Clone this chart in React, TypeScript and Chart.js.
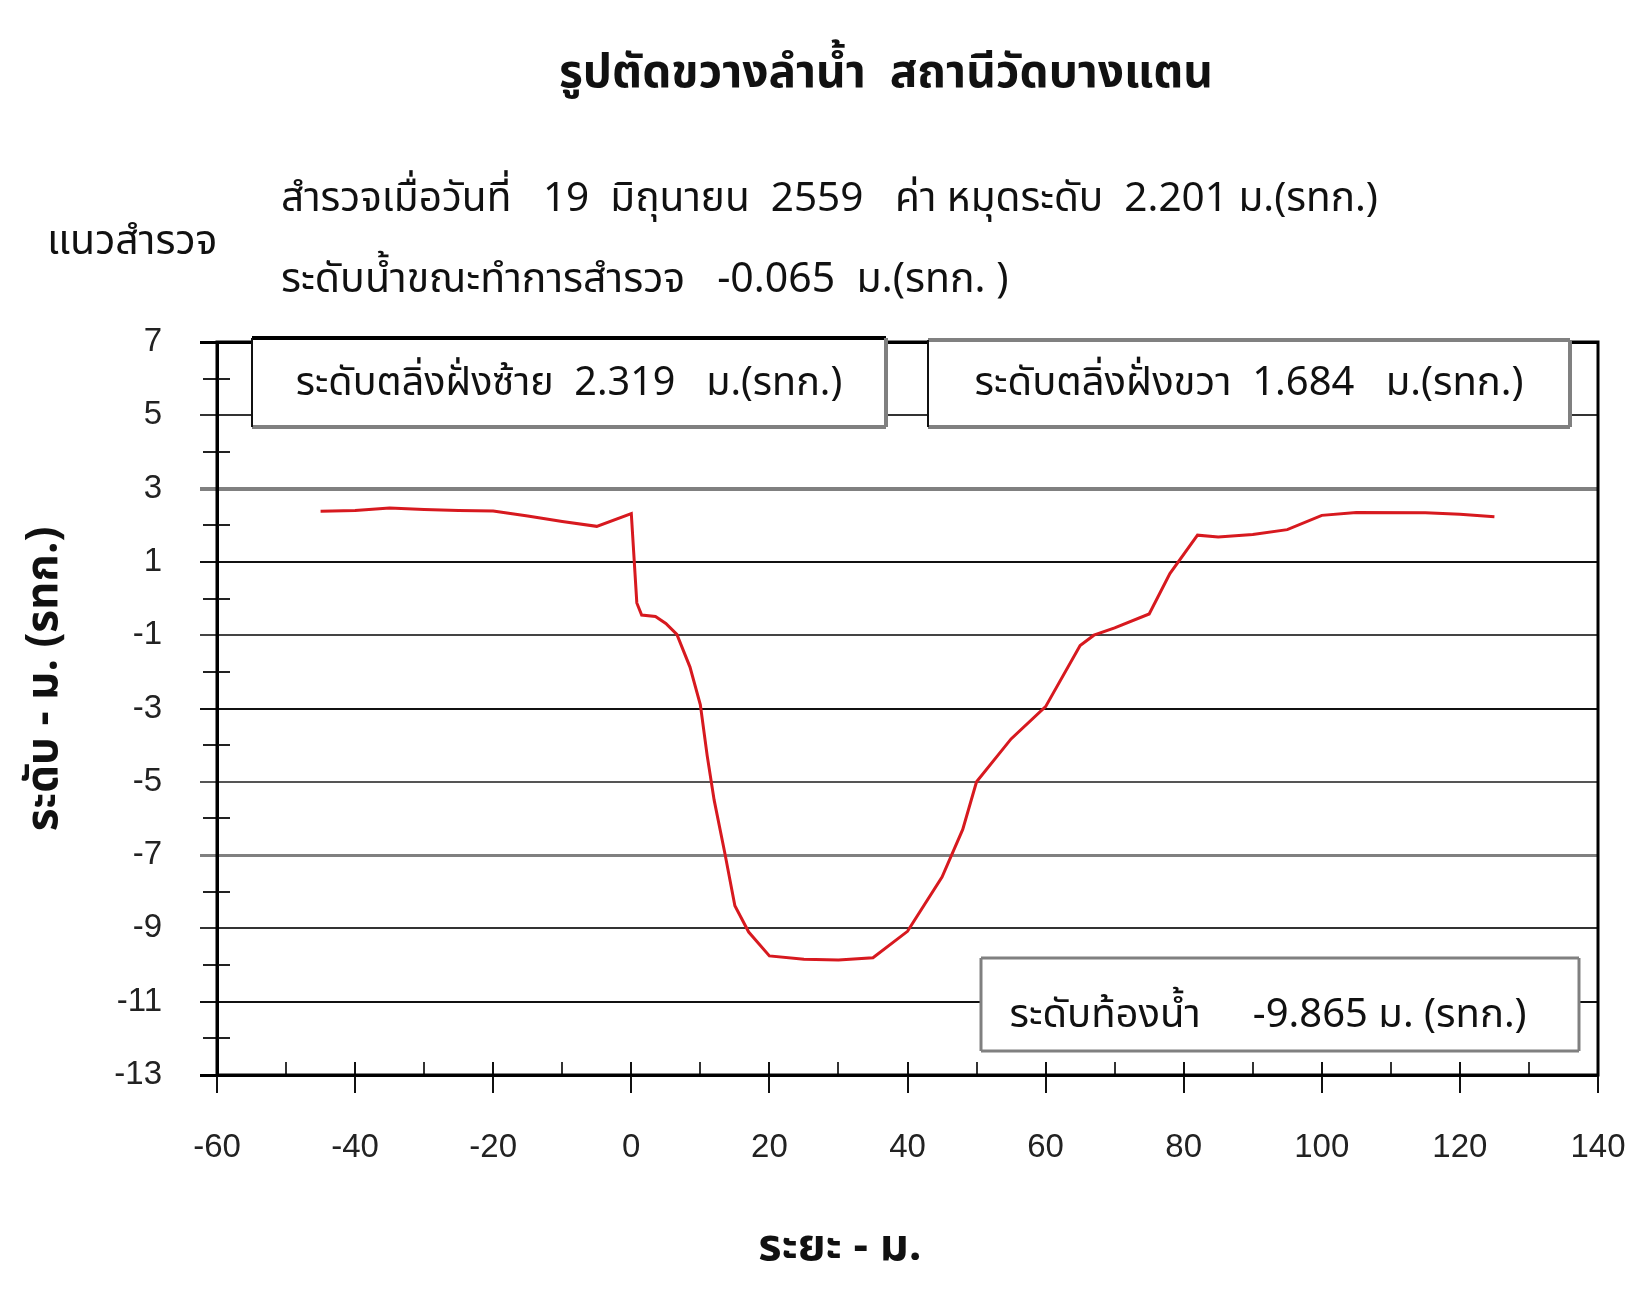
import React, { useEffect, useRef } from 'react';
import { Chart, registerables } from 'chart.js';

Chart.register(...registerables);

// ---- data ----
const distances = [-45, -40, -35, -30, -25, -20, -15, -10, -5, 0, 0.8, 1.5, 3.5, 5, 6.6, 8.5, 10, 11, 12, 13.5, 15, 17, 20, 25, 30, 35, 40, 45, 48, 50, 55, 60, 65, 67, 70, 75, 78, 82, 85, 90, 95, 100, 105, 115, 120, 125];
const levels = [2.38, 2.4, 2.47, 2.43, 2.4, 2.39, 2.25, 2.1, 1.97, 2.32, -0.12, -0.45, -0.49, -0.68, -0.98, -1.87, -2.9, -4.3, -5.5, -6.9, -8.38, -9.1, -9.75, -9.84, -9.865, -9.8, -9.08, -7.6, -6.3, -5.0, -3.83, -2.95, -1.28, -1.0, -0.8, -0.42, 0.68, 1.73, 1.68, 1.75, 1.88, 2.27, 2.35, 2.34, 2.3, 2.23];

const xMin = -60;
const xMax = 140;
const xStep = 10;
const xLabelEvery = 20;
const yMin = -13;
const yMax = 7;
const yStep = 2;

const titleText = 'รูปตัดขวางลำน้ำ  สถานีวัดบางแตน';
const surveyLine1 = 'สำรวจเมื่อวันที่   19  มิถุนายน  2559   ค่า หมุดระดับ  2.201 ม.(รทก.)';
const surveyLine2 = 'ระดับน้ำขณะทำการสำรวจ   -0.065  ม.(รทก. )';
const sideLabel = 'แนวสำรวจ';
const leftBankText = 'ระดับตลิ่งฝั่งซ้าย  2.319   ม.(รทก.)';
const rightBankText = 'ระดับตลิ่งฝั่งขวา  1.684   ม.(รทก.)';
const bedText = 'ระดับท้องน้ำ     -9.865 ม. (รทก.)';
const xTitle = 'ระยะ - ม.';
const yTitle = 'ระดับ - ม. (รทก.)';

// ---- styles ----
const FONT = 'Tahoma, "Noto Sans Thai", "Liberation Sans", Arial, sans-serif';
const TICK_FONT = '"Liberation Sans", Arial, sans-serif';
const LINE_COLOR = '#d7191f';
const gridStyle: Record<string, { color: string; width: number }> = {
  '7': { color: '#000000', width: 3 },
  '5': { color: '#333333', width: 2 },
  '3': { color: '#808080', width: 4 },
  '1': { color: '#111111', width: 2 },
  '-1': { color: '#444444', width: 2 },
  '-3': { color: '#111111', width: 2 },
  '-5': { color: '#555555', width: 2 },
  '-7': { color: '#808080', width: 3 },
  '-9': { color: '#333333', width: 2 },
  '-11': { color: '#111111', width: 2 },
  '-13': { color: '#000000', width: 3 },
};

const W = 1645;
const H = 1316;
const PLOT_LEFT = 217;
const PLOT_RIGHT = 1598;
const PLOT_TOP = 342;
const PLOT_BOTTOM = 1075;

function drawBox(
  ctx: CanvasRenderingContext2D,
  x0: number, y0: number, x1: number, y1: number,
  edges: { top: string; tw: number; left: string; lw: number; right: string; rw: number; bottom: string; bw: number },
  text: string, tx: number, ty: number, size: number
) {
  ctx.save();
  ctx.fillStyle = '#ffffff';
  ctx.fillRect(x0, y0, x1 - x0, y1 - y0);
  const line = (ax: number, ay: number, bx: number, by: number, c: string, w: number) => {
    ctx.beginPath();
    ctx.strokeStyle = c;
    ctx.lineWidth = w;
    ctx.moveTo(ax, ay);
    ctx.lineTo(bx, by);
    ctx.stroke();
  };
  line(x0, y0, x1, y0, edges.top, edges.tw);
  line(x1, y0, x1, y1, edges.right, edges.rw);
  line(x0, y1, x1, y1, edges.bottom, edges.bw);
  line(x0, y0, x0, y1, edges.left, edges.lw);
  ctx.fillStyle = '#111111';
  ctx.font = `${size}px ${FONT}`;
  ctx.textAlign = 'center';
  ctx.textBaseline = 'middle';
  ctx.fillText(text, tx, ty);
  ctx.restore();
}

const decorPlugin = {
  id: 'decor',
  beforeDatasetsDraw(chart: any) {
    const ctx: CanvasRenderingContext2D = chart.ctx;
    const xs = chart.scales.x;
    const ys = chart.scales.y;
    const { left, right, top, bottom } = chart.chartArea;
    ctx.save();
    // minor y ticks
    ctx.strokeStyle = '#222';
    ctx.lineWidth = 2;
    for (let v = yMin + 1; v < yMax; v += yStep) {
      const py = Math.round(ys.getPixelForValue(v));
      ctx.beginPath();
      ctx.moveTo(left - 14, py);
      ctx.lineTo(left + 13, py);
      ctx.stroke();
    }
    // x ticks
    for (let v = xMin; v <= xMax; v += xStep) {
      const px = Math.round(xs.getPixelForValue(v));
      const labelled = (v - xMin) % xLabelEvery === 0;
      ctx.beginPath();
      ctx.strokeStyle = labelled ? '#111' : '#333';
      ctx.lineWidth = 2;
      ctx.moveTo(px, bottom - 13);
      ctx.lineTo(px, labelled ? bottom + 18 : bottom);
      ctx.stroke();
    }
    // frame
    ctx.strokeStyle = '#000';
    ctx.lineWidth = 3;
    ctx.strokeRect(left, top, right - left, bottom - top);
    ctx.restore();
  },
  afterDraw(chart: any) {
    const ctx: CanvasRenderingContext2D = chart.ctx;
    ctx.save();
    ctx.fillStyle = '#111111';
    ctx.textBaseline = 'middle';
    // title
    ctx.font = `bold 46px ${FONT}`;
    ctx.textAlign = 'center';
    ctx.fillText(titleText, 886, 78);
    // survey lines
    ctx.font = `40.5px ${FONT}`;
    ctx.textAlign = 'left';
    ctx.fillText(surveyLine1, 281, 203);
    ctx.font = `41px ${FONT}`;
    ctx.fillText(surveyLine2, 281, 284);
    ctx.font = `41px ${FONT}`;
    ctx.fillText(sideLabel, 47, 246);
    // axis titles
    ctx.font = `bold 45px ${FONT}`;
    ctx.textAlign = 'center';
    ctx.fillText(xTitle, 840, 1251);
    ctx.save();
    ctx.translate(48, 679);
    ctx.rotate(-Math.PI / 2);
    ctx.font = `bold 44px ${FONT}`;
    ctx.fillText(yTitle, 0, 0);
    ctx.restore();
    // boxes
    drawBox(ctx, 252, 338, 886, 427,
      { top: '#000', tw: 4, left: '#111', lw: 2, right: '#808080', rw: 4, bottom: '#808080', bw: 4 },
      leftBankText, 569, 387, 39.5);
    drawBox(ctx, 928, 340, 1570, 427,
      { top: '#808080', tw: 4, left: '#111', lw: 2, right: '#808080', rw: 4, bottom: '#808080', bw: 4 },
      rightBankText, 1249, 387, 40);
    drawBox(ctx, 981, 958, 1579, 1051,
      { top: '#808080', tw: 3, left: '#808080', lw: 3, right: '#808080', rw: 3, bottom: '#808080', bw: 3 },
      bedText, 1268, 1019, 40);
    ctx.restore();
  },
};

export default function App() {
  const ref = useRef<HTMLCanvasElement | null>(null);
  useEffect(() => {
    if (!ref.current) return;
    const points = distances.map((d, i) => ({ x: d, y: levels[i] }));
    const chart = new Chart(ref.current, {
      type: 'line',
      data: {
        datasets: [
          {
            data: points,
            borderColor: LINE_COLOR,
            borderWidth: 3,
            pointRadius: 0,
            tension: 0,
            fill: false,
          },
        ],
      },
      options: {
        animation: false,
        responsive: false,
        devicePixelRatio: 1,
        layout: { padding: { top: PLOT_TOP, right: W - PLOT_RIGHT, left: 0, bottom: 0 } },
        plugins: { legend: { display: false }, tooltip: { enabled: false } },
        scales: {
          x: {
            type: 'linear',
            min: xMin,
            max: xMax,
            afterFit: (s: any) => {
              s.height = H - PLOT_BOTTOM;
              s.paddingLeft = 0;
              s.paddingRight = 0;
            },
            afterBuildTicks: (s: any) => {
              const t = [];
              for (let v = xMin; v <= xMax; v += xLabelEvery) t.push({ value: v });
              s.ticks = t;
            },
            grid: { display: false, drawTicks: false },
            border: { display: false },
            ticks: {
              autoSkip: false,
              maxRotation: 0,
              padding: 53,
              color: '#222',
              font: { family: TICK_FONT, size: 33 },
            },
          },
          y: {
            type: 'linear',
            min: yMin,
            max: yMax,
            afterFit: (s: any) => {
              s.width = PLOT_LEFT;
              s.paddingTop = 0;
              s.paddingBottom = 0;
            },
            ticks: {
              stepSize: yStep,
              padding: 38,
              color: '#222',
              font: { family: TICK_FONT, size: 33 },
            },
            grid: {
              drawTicks: true,
              tickLength: 17,
              color: (c: any) => (gridStyle[String(c.tick?.value)] || { color: '#333' }).color,
              lineWidth: (c: any) => (gridStyle[String(c.tick?.value)] || { width: 2 }).width,
            },
            border: { display: true, color: '#000', width: 3 },
          },
        },
      },
      plugins: [decorPlugin],
    });
    return () => chart.destroy();
  }, []);
  return (
    <div style={{ position: 'absolute', left: 0, top: 0, width: W, height: H, background: '#fff' }}>
      <canvas ref={ref} width={W} height={H} style={{ width: W, height: H, display: 'block' }} />
    </div>
  );
}
